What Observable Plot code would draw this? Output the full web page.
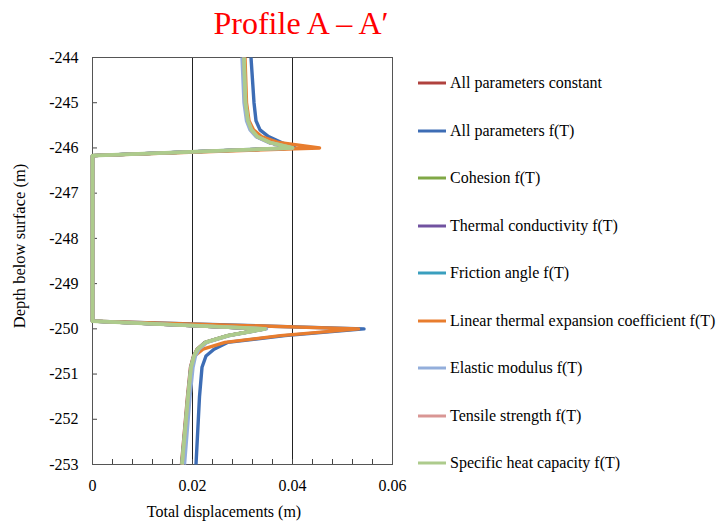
<!DOCTYPE html>
<html><head><meta charset="utf-8">
<script src="https://cdn.jsdelivr.net/npm/d3@7"></script>
<script src="https://cdn.jsdelivr.net/npm/@observablehq/plot@0.6"></script>
<style>
body{margin:0;background:#fff;}
#wrap{position:relative;width:719px;height:524px;font-family:"Liberation Serif","Times New Roman",serif;color:#000;overflow:hidden;}
#title{position:absolute;left:0;top:7px;width:602px;text-align:center;font-size:32px;line-height:32px;color:#ff0000;white-space:nowrap;}
#chart{position:absolute;left:0;top:48px;}
#xlabel{position:absolute;left:124px;width:200px;top:502px;text-align:center;font-size:16px;line-height:20px;white-space:nowrap;}
#ylabel{position:absolute;left:20px;top:246px;transform:translate(-50%,-50%) rotate(-90deg);font-size:16.5px;line-height:20px;white-space:nowrap;}
#legend{position:absolute;left:418px;top:0;}
.row{position:absolute;left:0;height:20px;display:flex;align-items:center;white-space:nowrap;font-size:16px;}
.row svg{display:block;margin-right:2px;}
</style>
</head><body>
<div id="wrap">
  <div id="title">Profile A – A′</div>
  <div id="chart"></div>
  <div id="xlabel">Total displacements (m)</div>
  <div id="ylabel">Depth below surface (m)</div>
  <div id="legend"></div>
</div>
<script>
// ---- data ----
const seriesNames = [
  "All parameters constant",
  "All parameters f(T)",
  "Cohesion f(T)",
  "Thermal conductivity f(T)",
  "Friction angle f(T)",
  "Linear thermal expansion coefficient f(T)",
  "Elastic modulus f(T)",
  "Tensile strength f(T)",
  "Specific heat capacity f(T)"
];
const seriesColors = ["#B0423E","#3D6DB5","#80A846","#7152A0","#3A9FBE","#E87D2E","#93AEDB","#D99694","#ADCB8C"];

const depth = [-244, -245, -245.4, -245.6, -245.75, -245.88, -246, -246.17, -249.83, -250, -250.15, -250.3, -250.45, -250.6, -250.85, -251.5, -253];

const dispConstant   = [0.0302,0.0305,0.0310,0.0317,0.0329,0.0354,0.0400,0,0,0.0344,0.0270,0.0225,0.0209,0.0202,0.0196,0.0190,0.0178];
const dispAllFT      = [0.0317,0.0323,0.0327,0.0335,0.0352,0.0378,0.0405,0,0,0.0543,0.0385,0.0270,0.0243,0.0227,0.0219,0.0214,0.0207];
const dispCohesion   = [0.0303,0.0306,0.0311,0.0318,0.0330,0.0355,0.0400,0,0,0.0345,0.0271,0.0226,0.0210,0.0203,0.0197,0.0191,0.0179];
const dispThermCond  = [0.0303,0.0306,0.0311,0.0318,0.0330,0.0355,0.0400,0,0,0.0345,0.0271,0.0226,0.0210,0.0203,0.0197,0.0191,0.0179];
const dispFriction   = [0.0303,0.0306,0.0311,0.0318,0.0330,0.0355,0.0400,0,0,0.0345,0.0271,0.0226,0.0210,0.0203,0.0197,0.0191,0.0179];
const dispExpansion  = [0.0305,0.0308,0.0313,0.0322,0.0338,0.0372,0.0454,0,0,0.0532,0.0376,0.0265,0.0221,0.0204,0.0198,0.0191,0.0180];
const dispElastic    = [0.0299,0.0303,0.0308,0.0315,0.0327,0.0352,0.0398,0,0,0.0348,0.0274,0.0229,0.0213,0.0206,0.0201,0.0195,0.0184];
const dispTensile    = [0.0303,0.0306,0.0311,0.0318,0.0330,0.0355,0.0400,0,0,0.0345,0.0271,0.0226,0.0210,0.0203,0.0197,0.0191,0.0179];
const dispSpecHeat   = [0.0303,0.0306,0.0311,0.0318,0.0330,0.0355,0.0400,0,0,0.0345,0.0271,0.0226,0.0210,0.0203,0.0197,0.0191,0.0179];

const seriesValues = [dispConstant, dispAllFT, dispCohesion, dispThermCond, dispFriction, dispExpansion, dispElastic, dispTensile, dispSpecHeat];

const xTicks = [0, 0.02, 0.04, 0.06];
const xMinorTicks = [0,0.004,0.008,0.012,0.016,0.02,0.024,0.028,0.032,0.036,0.04,0.044,0.048,0.052,0.056,0.06];
const xGrid = [0.02, 0.04, 0.06];
const yTicks = [-244,-245,-246,-247,-248,-249,-250,-251,-252,-253];

// ---- build ----
const rows = [];
seriesNames.forEach((name, s) => {
  depth.forEach((d, i) => rows.push({series: name, order: s, x: seriesValues[s][i], y: d}));
});

const lineMarks = seriesNames.map((name, s) =>
  Plot.line(rows.filter(r => r.order === s), {
    x: "x", y: "y", stroke: seriesColors[s], strokeWidth: s === 8 ? 3.8 : 3.4, strokeLinejoin: "round", strokeLinecap: "butt"
  })
);

const chart = Plot.plot({
  width: 719,
  height: 476,
  marginLeft: 92,
  marginRight: 327,
  marginTop: 9,
  marginBottom: 60,
  style: {fontFamily: "'Liberation Serif','Times New Roman',serif", fontSize: "16px", color: "#000", background: "transparent", overflow: "visible"},
  x: {domain: [0, 0.06], label: null},
  y: {domain: [-253, -244], label: null},
  marks: [
    Plot.ruleX(xGrid, {stroke: "#222", strokeWidth: 1}),
    Plot.axisX({ticks: xMinorTicks, tickSize: 5, dy: -5, text: null, stroke: "#444"}),
    Plot.axisX({ticks: xTicks, tickSize: 0, tickPadding: 15, tickFormat: d => d === 0 ? "0" : d.toFixed(2), label: null, fontSize: 16}),
    Plot.axisY({ticks: yTicks, tickSize: 5, dx: 5, text: null, stroke: "#444"}),
    Plot.axisY({ticks: yTicks, tickSize: 0, tickPadding: 14, tickFormat: d => String(d), label: null, fontSize: 16}),
    Plot.frame({stroke: "#555", strokeWidth: 1}),
    ...lineMarks
  ]
});
document.getElementById("chart").appendChild(chart);

// legend
const legend = document.getElementById("legend");
seriesNames.forEach((name, s) => {
  const row = document.createElement("div");
  row.className = "row";
  row.style.top = (83 + 47.5 * s - 10) + "px";
  row.innerHTML = `<svg width="30" height="4"><line x1="0" y1="2" x2="28" y2="2" stroke="${seriesColors[s]}" stroke-width="3"/></svg><span>${name}</span>`;
  legend.appendChild(row);
});
</script>
</body></html>
